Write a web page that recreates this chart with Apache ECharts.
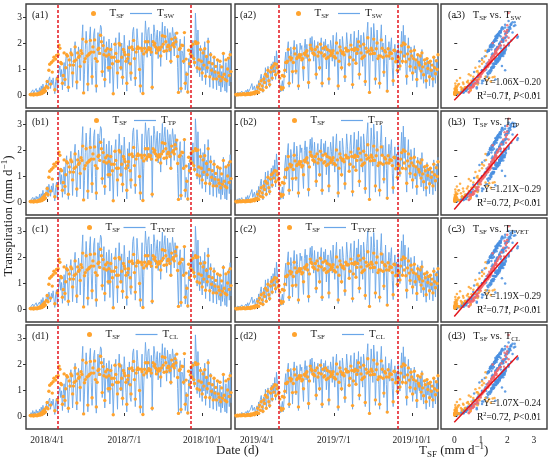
<!DOCTYPE html>
<html>
<head>
<meta charset="utf-8">
<script src="https://cdn.jsdelivr.net/npm/echarts@6/dist/echarts.min.js"></script>
<style>html,body{margin:0;padding:0;background:#fff}#chart{width:550px;height:462px}</style>
</head>
<body>
<div id="chart"></div>
<script>
// 日值 2018（从 2018-03-12 开始）
const sf2018 = [0.02,0.01,0.03,0.02,0.00,0.04,0.02,0.03,0.01,0.05,
0.03,0.08,0.04,0.12,0.06,0.18,0.10,0.25,0.15,0.33,
0.52,0.28,0.95,1.18,0.42,1.25,0.88,1.32,1.45,0.20,
1.38,1.52,0.62,1.55,1.92,1.80,1.25,1.20,0.45,0.75,
1.62,0.60,1.05,1.55,1.50,0.30,1.35,1.15,1.62,1.55,
0.85,1.15,1.30,1.85,1.35,0.50,1.62,1.45,1.50,1.10,
1.70,1.60,2.15,0.08,1.28,1.40,2.05,1.50,0.42,1.55,
1.60,2.10,1.65,0.70,1.85,1.65,2.12,1.40,0.35,1.30,
1.75,1.80,1.60,2.30,2.05,0.90,1.90,1.55,0.60,1.70,
1.50,1.78,1.05,1.55,1.05,1.75,1.45,1.20,0.05,1.45,
1.95,1.60,1.30,0.85,1.30,1.98,1.92,1.05,1.45,0.68,
1.75,1.65,1.55,1.30,0.45,1.40,1.55,1.82,1.20,0.85,
1.85,1.75,2.10,1.40,0.65,1.65,1.78,1.85,1.80,0.98,
0.35,1.80,1.70,0.06,1.58,1.80,2.05,1.65,1.72,2.05,
1.82,1.75,1.78,1.65,0.30,2.05,1.92,1.98,1.85,1.62,
1.78,1.72,1.82,1.75,1.50,1.85,2.28,1.95,1.68,2.25,
2.05,1.70,1.85,1.92,1.88,1.75,1.30,2.15,1.92,1.98,
1.85,2.20,2.05,2.38,1.48,0.10,1.75,1.80,0.25,1.92,
1.90,1.30,2.40,0.45,1.38,0.80,0.12,1.72,1.20,1.58,
1.88,1.50,1.95,1.40,1.25,2.05,1.98,1.05,2.00,1.35,
1.00,1.75,1.30,0.85,1.62,1.15,1.78,0.72,1.48,1.05,
2.05,1.25,0.70,1.55,0.95,1.20,0.62,1.45,0.88,1.10,
0.62,1.35,0.85,0.72,1.30,0.55,1.08,0.68,1.60,0.80,
0.60,1.35,0.55,1.00,1.42,0.75,1.55,0.90];

const sw2018 = [0.05,0.12,0.02,0.20,0.08,0.15,0.03,0.25,0.10,0.18,
0.05,0.28,0.12,0.35,0.15,0.42,0.20,0.30,0.10,0.48,
0.55,0.22,0.62,0.70,0.25,0.58,0.40,0.66,0.68,0.05,
0.52,0.70,0.18,0.60,0.95,1.12,0.70,0.98,0.20,0.88,
1.25,0.35,1.40,1.62,1.10,0.12,0.95,1.48,1.80,1.20,
0.30,1.05,1.70,2.05,0.85,0.22,1.30,1.85,1.52,0.55,
1.40,2.10,2.70,0.05,0.80,1.75,2.45,1.90,0.15,1.20,
2.20,2.62,1.30,0.40,1.60,2.35,2.55,0.95,0.10,1.72,
2.40,1.55,2.30,2.68,2.60,0.70,1.65,2.25,0.30,1.40,
2.05,1.50,0.90,2.15,0.45,1.52,2.00,1.10,0.08,1.05,
1.85,2.20,1.25,0.25,1.70,2.40,1.80,0.95,2.00,0.40,
1.50,2.30,1.65,0.90,0.15,1.90,1.20,2.10,0.70,0.55,
1.68,2.45,2.60,1.85,0.35,1.30,2.55,2.10,1.60,0.80,
0.10,1.55,2.40,0.05,1.20,2.05,2.85,2.30,1.45,2.50,
2.60,1.90,1.50,2.35,0.20,1.95,2.70,2.40,1.60,2.20,
2.50,1.40,2.05,2.45,1.10,2.15,2.80,1.75,2.30,2.65,
2.00,1.35,2.55,2.20,1.65,2.40,1.20,2.10,2.60,2.25,
1.50,2.40,1.90,2.20,1.05,0.08,1.80,2.15,0.10,1.70,
1.60,1.20,2.25,0.20,0.90,0.45,0.05,1.40,1.05,1.65,
1.90,1.40,2.10,1.30,1.10,3.15,2.40,0.85,2.50,1.20,
0.70,1.90,1.15,0.55,1.75,0.95,2.05,0.40,1.50,0.85,
2.20,1.10,0.30,1.65,0.75,1.05,0.25,1.50,0.60,0.95,
0.20,1.30,0.55,0.35,1.20,0.12,0.90,0.30,1.60,0.45,
0.15,1.25,0.10,0.80,1.45,0.35,1.70,0.50];

const tp2018 = [0.04,0.10,0.03,0.18,0.06,0.16,0.02,0.22,0.12,0.20,
0.04,0.30,0.10,0.32,0.18,0.45,0.18,0.34,0.08,0.52,
0.60,0.20,0.68,0.75,0.22,0.62,0.38,0.72,0.74,0.04,
0.55,0.76,0.15,0.64,1.00,1.20,0.68,1.05,0.18,0.92,
1.35,0.30,1.52,1.78,1.15,0.10,1.02,1.60,1.95,1.28,
0.25,1.12,1.85,2.22,0.88,0.20,1.40,2.00,1.62,0.50,
1.50,2.28,2.90,0.04,0.82,1.90,2.65,2.05,0.12,1.28,
2.40,2.85,1.38,0.35,1.72,2.55,2.78,0.98,0.08,1.85,
2.62,1.65,2.48,2.90,2.82,0.68,1.78,2.45,0.28,1.50,
2.22,1.60,0.92,2.35,0.42,1.62,2.18,1.15,0.06,1.10,
2.00,2.40,1.32,0.22,1.85,2.62,1.95,0.98,2.18,0.38,
1.62,2.50,1.78,0.92,0.12,2.05,1.28,2.30,0.68,0.52,
1.82,2.68,2.85,2.00,0.32,1.40,2.78,2.28,1.72,0.80,
0.08,1.68,2.62,0.04,1.28,2.22,3.05,2.50,1.55,2.72,
2.85,2.05,1.60,2.55,0.18,2.10,2.92,2.60,1.72,2.38,
2.72,1.50,2.22,2.65,1.15,2.32,3.02,1.88,2.48,2.88,
2.15,1.42,2.78,2.38,1.75,2.60,1.25,2.28,2.82,2.42,
1.60,2.60,2.05,2.38,1.10,0.06,1.95,2.32,0.08,1.82,
1.72,1.25,2.45,0.18,0.95,0.42,0.04,1.50,1.10,1.78,
2.05,1.50,2.28,1.38,1.15,3.20,2.58,0.88,2.70,1.25,
0.68,2.05,1.22,0.52,1.90,1.00,2.22,0.38,1.60,0.88,
2.40,1.15,0.28,1.78,0.78,1.10,0.22,1.62,0.58,1.00,
0.18,1.40,0.52,0.32,1.28,0.10,0.95,0.28,1.72,0.42,
0.12,1.32,0.08,0.82,1.55,0.32,1.82,0.48];

const tvet2018 = [0.06,0.11,0.02,0.19,0.09,0.14,0.04,0.24,0.11,0.17,
0.06,0.27,0.13,0.36,0.14,0.44,0.21,0.31,0.11,0.50,
0.58,0.24,0.65,0.72,0.27,0.60,0.42,0.70,0.71,0.06,
0.54,0.74,0.17,0.63,0.98,1.18,0.72,1.02,0.22,0.90,
1.32,0.33,1.48,1.72,1.14,0.13,1.00,1.56,1.90,1.25,
0.28,1.10,1.80,2.18,0.90,0.23,1.36,1.96,1.58,0.54,
1.46,2.22,2.85,0.06,0.84,1.85,2.60,2.00,0.14,1.26,
2.35,2.78,1.36,0.38,1.68,2.50,2.72,0.97,0.09,1.80,
2.55,1.62,2.44,2.84,2.75,0.72,1.74,2.40,0.30,1.46,
2.18,1.58,0.94,2.28,0.44,1.60,2.14,1.14,0.07,1.08,
1.96,2.35,1.30,0.24,1.80,2.55,1.90,0.99,2.12,0.40,
1.58,2.45,1.74,0.93,0.14,2.00,1.26,2.24,0.71,0.56,
1.78,2.60,2.78,1.96,0.34,1.38,2.72,2.22,1.68,0.82,
0.09,1.64,2.55,0.05,1.26,2.18,3.00,2.45,1.52,2.65,
2.78,2.02,1.58,2.50,0.19,2.06,2.86,2.55,1.70,2.34,
2.66,1.48,2.18,2.60,1.14,2.28,2.96,1.85,2.44,2.82,
2.12,1.40,2.72,2.34,1.72,2.55,1.24,2.24,2.76,2.38,
1.58,2.55,2.02,2.34,1.08,0.07,1.92,2.28,0.09,1.80,
1.70,1.24,2.40,0.19,0.94,0.44,0.05,1.48,1.08,1.75,
2.02,1.48,2.24,1.36,1.14,3.18,2.54,0.88,2.65,1.24,
0.70,2.02,1.20,0.54,1.86,0.99,2.18,0.40,1.58,0.87,
2.35,1.14,0.30,1.75,0.77,1.08,0.24,1.59,0.60,0.98,
0.19,1.38,0.54,0.34,1.26,0.11,0.94,0.29,1.68,0.44,
0.14,1.30,0.09,0.82,1.52,0.34,1.78,0.50];

const cl2018 = [0.04,0.13,0.03,0.21,0.07,0.16,0.02,0.24,0.11,0.19,
0.06,0.27,0.13,0.34,0.16,0.41,0.21,0.31,0.09,0.47,
0.54,0.23,0.61,0.69,0.26,0.57,0.41,0.65,0.67,0.06,
0.51,0.69,0.19,0.59,0.94,1.10,0.71,0.97,0.21,0.87,
1.24,0.36,1.38,1.60,1.09,0.13,0.94,1.46,1.78,1.19,
0.31,1.04,1.68,2.03,0.86,0.23,1.29,1.83,1.51,0.56,
1.38,2.08,2.68,0.06,0.81,1.73,2.43,1.88,0.16,1.19,
2.18,2.60,1.29,0.41,1.58,2.33,2.53,0.96,0.11,1.70,
2.38,1.54,2.28,2.66,2.58,0.71,1.63,2.23,0.31,1.39,
2.03,1.49,0.91,2.13,0.46,1.50,1.98,1.09,0.09,1.04,
1.83,2.18,1.24,0.26,1.68,2.38,1.79,0.96,1.98,0.41,
1.49,2.28,1.64,0.91,0.16,1.88,1.19,2.08,0.71,0.56,
1.66,2.43,2.58,1.84,0.36,1.29,2.53,2.09,1.59,0.81,
0.11,1.54,2.38,0.06,1.19,2.03,2.83,2.28,1.44,2.48,
2.58,1.89,1.49,2.33,0.21,1.94,2.68,2.38,1.59,2.18,
2.48,1.39,2.03,2.43,1.11,2.13,2.78,1.74,2.28,2.63,
1.99,1.34,2.53,2.18,1.64,2.38,1.21,2.09,2.58,2.23,
1.49,2.38,1.89,2.18,1.06,0.09,1.79,2.13,0.11,1.69,
1.59,1.21,2.23,0.21,0.91,0.46,0.06,1.39,1.06,1.64,
1.89,1.41,2.08,1.31,1.11,3.12,2.38,0.86,2.48,1.21,
0.71,1.88,1.16,0.56,1.74,0.96,2.03,0.41,1.49,0.86,
2.18,1.11,0.31,1.64,0.76,1.06,0.26,1.49,0.61,0.96,
0.21,1.29,0.56,0.36,1.19,0.13,0.91,0.31,1.58,0.46,
0.16,1.24,0.11,0.81,1.44,0.36,1.68,0.51];

// 日值 2019（从 2019-03-07 开始）
const sf2019 = [0.02,0.00,0.03,0.01,0.02,0.04,0.01,0.03,0.02,0.05,
0.03,0.01,0.04,0.02,0.06,0.03,0.05,0.02,0.08,0.04,
0.06,0.10,0.05,0.12,0.08,0.15,0.30,0.10,0.42,0.22,
0.55,0.35,0.18,0.62,0.48,0.80,0.30,0.72,0.95,0.55,
0.40,0.88,1.05,0.65,1.12,0.92,1.20,0.78,1.18,1.05,
0.85,0.90,0.65,0.30,0.22,0.75,0.28,0.72,0.95,1.25,
1.25,1.30,1.75,0.45,1.45,1.35,1.42,0.90,1.25,1.80,
1.58,0.92,1.40,1.45,0.35,1.55,1.45,1.55,1.35,1.40,
1.05,1.60,1.55,1.65,1.70,1.50,0.48,1.35,1.92,1.80,
1.75,1.62,1.60,1.55,1.75,0.80,1.85,1.50,1.65,1.05,
1.95,1.62,0.45,1.80,1.50,1.55,1.85,1.40,1.75,1.45,
0.62,1.70,1.52,1.62,1.60,1.70,1.48,1.45,1.42,2.00,
1.62,0.35,1.30,1.85,1.70,1.05,1.60,1.65,1.55,0.70,
1.80,1.70,1.70,1.70,1.18,1.45,1.92,1.75,0.40,1.35,
1.72,1.80,1.22,1.60,1.75,2.05,0.80,1.88,1.62,1.40,
1.45,1.95,1.50,0.52,1.80,1.65,2.20,1.70,0.10,1.58,
1.80,1.72,1.60,2.15,1.60,0.62,1.78,2.00,1.40,1.50,
0.45,1.50,2.12,1.80,1.45,0.88,1.70,1.65,1.50,0.15,
1.78,1.50,1.62,1.62,1.60,1.40,0.55,1.72,1.70,1.28,
1.30,0.95,1.45,1.40,1.12,1.65,1.90,1.30,2.00,1.50,
1.95,1.28,0.72,1.58,1.85,1.38,1.10,1.68,1.50,0.85,
1.40,1.72,1.05,1.35,0.60,1.55,1.25,1.15,1.50,0.92,
1.62,1.08,0.78,1.35,1.20,0.55,1.40,1.02,1.25,0.70,
1.30,0.95,1.15,0.62,1.45,1.05,0.82,1.32,0.98,1.55];

const sw2019 = [0.02,0.05,0.10,0.03,0.12,0.06,0.02,0.15,0.08,0.04,
0.10,0.05,0.18,0.08,0.22,0.12,0.05,0.25,0.30,0.44,
0.20,0.15,0.35,0.10,0.28,0.40,0.18,0.55,0.30,0.65,
0.80,0.42,0.10,0.75,0.50,1.05,0.25,0.70,1.10,0.45,
0.30,0.92,1.20,0.55,1.28,0.85,1.50,0.60,1.70,1.35,
0.90,0.70,0.40,0.12,0.08,0.55,0.15,0.62,1.30,1.65,
0.85,1.75,2.05,0.30,1.20,1.85,1.55,0.45,1.70,2.10,
1.40,0.80,1.95,1.60,0.20,1.35,2.00,1.75,1.90,1.05,
0.55,1.80,2.15,1.40,1.95,1.20,0.25,1.85,2.20,1.65,
2.25,1.80,1.30,2.10,1.50,0.60,1.75,2.05,1.40,0.95,
1.85,2.20,0.30,1.60,2.05,1.70,2.15,1.00,1.55,1.95,
0.40,1.50,2.10,1.80,1.30,2.30,1.55,1.10,1.95,2.40,
1.30,0.20,1.70,2.15,1.45,0.95,2.25,1.85,1.30,0.50,
1.60,2.40,1.95,1.50,1.10,2.00,2.35,1.60,0.25,1.85,
2.45,1.70,1.20,2.20,1.60,2.50,0.60,1.80,2.30,1.45,
1.10,2.40,2.05,0.35,1.65,2.35,2.80,1.50,0.05,1.75,
2.60,2.00,1.30,2.75,2.20,0.40,1.60,2.50,1.90,1.20,
0.25,2.10,2.70,1.65,2.00,0.70,1.45,2.30,1.20,0.10,
1.60,2.05,1.35,1.85,2.20,1.05,0.35,1.50,1.95,1.25,
1.70,0.80,2.00,1.40,0.95,1.80,2.45,1.20,2.68,1.55,
2.30,1.10,0.40,1.65,2.20,1.25,0.90,1.85,1.50,0.55,
1.35,1.90,0.85,1.30,0.30,1.60,1.10,0.95,1.55,0.60,
1.75,0.90,0.45,1.30,1.05,0.25,1.40,0.80,1.20,0.35,
1.25,0.70,1.00,0.30,1.50,0.85,0.45,1.35,0.75,1.60];

const tp2019 = [0.03,0.04,0.12,0.02,0.14,0.05,0.03,0.17,0.07,0.05,
0.12,0.04,0.20,0.07,0.25,0.11,0.04,0.28,0.33,0.48,
0.18,0.14,0.38,0.09,0.30,0.44,0.16,0.60,0.28,0.70,
0.88,0.40,0.08,0.82,0.52,1.15,0.22,0.75,1.20,0.42,
0.28,1.00,1.30,0.55,1.40,0.90,1.62,0.58,1.85,1.45,
0.95,0.72,0.38,0.10,0.06,0.58,0.12,0.66,1.42,1.80,
0.88,1.92,2.25,0.28,1.30,2.02,1.68,0.42,1.85,2.30,
1.52,0.82,2.15,1.75,0.18,1.45,2.20,1.90,2.08,1.10,
0.52,1.98,2.35,1.50,2.12,1.28,0.22,2.02,2.42,1.78,
2.48,1.95,1.40,2.30,1.62,0.58,1.90,2.25,1.50,0.98,
2.02,2.42,0.28,1.75,2.25,1.85,2.35,1.05,1.68,2.12,
0.38,1.62,2.30,1.95,1.40,2.52,1.68,1.15,2.12,2.62,
1.40,0.18,1.85,2.35,1.58,0.98,2.45,2.02,1.40,0.48,
1.75,2.62,2.12,1.62,1.15,2.18,2.58,1.72,0.22,2.02,
2.68,1.85,1.28,2.40,1.72,2.72,0.58,1.95,2.52,1.55,
1.15,2.62,2.22,0.32,1.78,2.58,3.05,1.62,0.04,1.90,
2.85,2.18,1.38,3.00,2.40,0.38,1.72,2.72,2.05,1.28,
0.22,2.30,2.95,1.78,2.18,0.72,1.55,2.50,1.28,0.08,
1.72,2.22,1.45,2.02,2.40,1.10,0.32,1.62,2.12,1.32,
1.85,0.82,2.18,1.50,0.98,1.95,2.68,1.28,2.92,1.68,
2.50,1.15,0.38,1.78,2.40,1.32,0.92,2.02,1.62,0.52,
1.45,2.08,0.88,1.40,0.28,1.72,1.15,0.98,1.68,0.58,
1.90,0.92,0.42,1.40,1.10,0.22,1.52,0.82,1.28,0.32,
1.35,0.70,1.05,0.28,1.62,0.88,0.42,1.45,0.76,1.72];

const tvet2019 = [0.02,0.06,0.11,0.04,0.13,0.07,0.02,0.16,0.09,0.05,
0.11,0.06,0.19,0.09,0.24,0.13,0.06,0.27,0.32,0.46,
0.21,0.16,0.37,0.11,0.29,0.42,0.19,0.58,0.31,0.68,
0.85,0.43,0.11,0.80,0.52,1.12,0.26,0.74,1.16,0.46,
0.31,0.97,1.27,0.57,1.36,0.89,1.58,0.61,1.80,1.42,
0.93,0.72,0.41,0.13,0.09,0.57,0.16,0.65,1.38,1.76,
0.88,1.88,2.20,0.31,1.27,1.98,1.64,0.46,1.82,2.25,
1.48,0.82,2.10,1.71,0.21,1.42,2.15,1.86,2.03,1.09,
0.56,1.93,2.30,1.48,2.08,1.26,0.26,1.98,2.36,1.75,
2.42,1.92,1.38,2.25,1.59,0.61,1.87,2.20,1.48,0.98,
1.98,2.36,0.31,1.71,2.20,1.81,2.30,1.04,1.65,2.08,
0.41,1.59,2.25,1.92,1.38,2.46,1.65,1.14,2.08,2.57,
1.38,0.21,1.81,2.30,1.54,0.98,2.40,1.98,1.38,0.51,
1.71,2.57,2.08,1.59,1.14,2.14,2.52,1.70,0.26,1.98,
2.62,1.81,1.26,2.35,1.70,2.68,0.61,1.92,2.46,1.54,
1.14,2.57,2.18,0.36,1.76,2.52,3.00,1.59,0.06,1.86,
2.78,2.14,1.38,2.94,2.36,0.41,1.70,2.66,2.02,1.27,
0.26,2.25,2.90,1.76,2.14,0.73,1.54,2.46,1.27,0.11,
1.70,2.18,1.43,1.98,2.36,1.10,0.36,1.59,2.08,1.32,
1.81,0.83,2.14,1.48,0.98,1.92,2.62,1.27,2.86,1.65,
2.46,1.15,0.41,1.76,2.36,1.32,0.93,1.98,1.59,0.57,
1.43,2.03,0.89,1.38,0.31,1.70,1.15,0.99,1.65,0.62,
1.86,0.94,0.46,1.38,1.10,0.26,1.48,0.83,1.27,0.36,
1.32,0.73,1.05,0.31,1.59,0.89,0.46,1.43,0.78,1.70];

const cl2019 = [0.03,0.06,0.09,0.04,0.11,0.07,0.03,0.14,0.09,0.05,
0.09,0.06,0.17,0.09,0.21,0.13,0.06,0.24,0.29,0.42,
0.21,0.16,0.34,0.11,0.27,0.39,0.19,0.54,0.31,0.64,
0.79,0.43,0.11,0.74,0.51,1.03,0.26,0.69,1.08,0.46,
0.31,0.91,1.18,0.56,1.26,0.86,1.48,0.61,1.68,1.34,
0.91,0.71,0.41,0.13,0.09,0.56,0.16,0.61,1.29,1.63,
0.86,1.73,2.03,0.31,1.19,1.83,1.54,0.46,1.68,2.08,
1.39,0.81,1.93,1.59,0.21,1.34,1.98,1.74,1.88,1.06,
0.56,1.78,2.13,1.39,1.93,1.19,0.26,1.83,2.18,1.64,
2.23,1.79,1.29,2.08,1.49,0.61,1.74,2.03,1.39,0.96,
1.83,2.18,0.31,1.59,2.03,1.69,2.13,1.01,1.54,1.93,
0.41,1.49,2.08,1.79,1.29,2.28,1.54,1.11,1.93,2.38,
1.29,0.21,1.69,2.13,1.44,0.96,2.23,1.84,1.29,0.51,
1.59,2.38,1.93,1.49,1.11,1.98,2.33,1.59,0.26,1.84,
2.43,1.69,1.21,2.18,1.59,2.48,0.61,1.79,2.28,1.44,
1.11,2.38,2.03,0.36,1.64,2.33,2.78,1.49,0.06,1.74,
2.58,1.98,1.29,2.73,2.18,0.41,1.59,2.48,1.89,1.21,
0.26,2.08,2.68,1.64,1.98,0.71,1.44,2.28,1.21,0.11,
1.59,2.03,1.34,1.84,2.18,1.06,0.36,1.49,1.93,1.26,
1.69,0.81,1.98,1.39,0.96,1.79,2.43,1.21,2.66,1.54,
2.28,1.11,0.41,1.64,2.18,1.26,0.91,1.84,1.49,0.56,
1.34,1.88,0.86,1.29,0.31,1.59,1.11,0.96,1.54,0.61,
1.74,0.91,0.46,1.29,1.06,0.26,1.39,0.81,1.21,0.36,
1.24,0.71,1.01,0.31,1.49,0.86,0.46,1.34,0.76,1.59];

const seriesStart = ['2018-03-12', '2019-03-07'];
const axisRange = [['2018-03-07', '2018-11-04'], ['2019-03-06', '2019-11-01']];
const dateTicks = [['2018-04-01', '2018-07-01', '2018-10-01'], ['2019-04-01', '2019-07-01', '2019-10-01']];
const phaseSplits = [['2018-04-14', '2018-09-17'], ['2019-04-27', '2019-09-15']];
const valueTicks = [0, 1, 2, 3];

const modelNames = ['SW', 'TP', 'TVET', 'CL'];
const rowLetters = ['a', 'b', 'c', 'd'];
const slopes = [1.06, 1.21, 1.19, 1.07];
const intercepts = [-0.20, -0.29, -0.29, -0.24];
const r2Values = ['0.71', '0.72', '0.71', '0.72'];
const fitRange = [0, 2.4];

const modelData = [[sw2018, sw2019], [tp2018, tp2019], [tvet2018, tvet2019], [cl2018, cl2019]];
const sfData = [sf2018, sf2019];

// layout
const colLeft = [26, 235, 441];
const colWidth = [205, 203, 106];
const rowTop = [4, 111, 218, 325];
const rowHeight = 104;
const legendLeft = [[91, 296], [94, 292], [87, 287], [87, 292]];
const legendGap = [[6, 9], [7, 16], [3.5, 4], [15.5, 17]];

const serif = 'Liberation Serif';
const ink = '#1a1a1a';
const blue = '#6aa6e8';
const orange = '#ffa32e';
const red = '#e3161c';
const phaseColors = ['#ffa32e', '#4a8fe0', '#f2676c'];

function ts(s) {
  const p = s.split('-').map(Number);
  return new Date(p[0], p[1] - 1, p[2]).getTime();
}
function dayList(startStr, n) {
  const p = startStr.split('-').map(Number);
  const out = [];
  for (let i = 0; i < n; i++) out.push(new Date(p[0], p[1] - 1, p[2] + i).getTime());
  return out;
}
function fmtDate(v) {
  const d = new Date(v);
  return d.getFullYear() + '/' + (d.getMonth() + 1) + '/' + d.getDate();
}

const legendRich = {
  t: {fontFamily: serif, fontSize: 11, color: ink},
  s: {fontFamily: serif, fontSize: 7, color: ink, padding: [6, 0, 0, 0]}
};
const titleRich = {
  n: {fontFamily: serif, fontSize: 10.5, color: ink},
  s: {fontFamily: serif, fontSize: 7, color: ink, padding: [6, 0, 0, 0]}
};
const noteRich = {
  n: {fontFamily: serif, fontSize: 9.5, color: ink},
  sup: {fontFamily: serif, fontSize: 6.5, color: ink, padding: [0, 0, 6, 0]},
  i: {fontFamily: serif, fontSize: 9.5, color: ink, fontStyle: 'italic'}
};

const grids = [], xAxes = [], yAxes = [], series = [], legends = [], titles = [];

rowTop.forEach((top, r) => {
  const bottomRow = r === rowTop.length - 1;
  for (let c = 0; c < 3; c++) {
    const gi = grids.length;
    grids.push({
      left: colLeft[c], top: top, width: colWidth[c], height: rowHeight,
      show: true, borderColor: '#3c3c3c', borderWidth: 1.4, backgroundColor: '#fff',
      containLabel: false, outerBoundsMode: 'none'
    });
    yAxes.push({
      gridIndex: gi, type: 'value', min: -0.5, max: 3.5,
      splitLine: {show: false}, axisLine: {show: false},
      axisTick: {show: true, inside: c > 0, length: 3, customValues: valueTicks, lineStyle: {color: '#333'}},
      axisLabel: {show: c === 0, customValues: valueTicks, margin: 4, fontFamily: serif, fontSize: 9.5, color: ink}
    });

    if (c < 2) {
      // dates kept as plain numbers (ms) on a value axis
      const tickTs = dateTicks[c].map(ts);
      xAxes.push({
        gridIndex: gi, type: 'value', min: ts(axisRange[c][0]), max: ts(axisRange[c][1]),
        splitLine: {show: false}, axisLine: {show: false},
        axisTick: {show: true, inside: true, length: 3, customValues: tickTs, lineStyle: {color: '#333'}},
        axisLabel: {show: bottomRow, customValues: tickTs, formatter: fmtDate, margin: 6, fontFamily: serif, fontSize: 9.5, color: ink, hideOverlap: false}
      });
      const days = dayList(seriesStart[c], sfData[c].length);
      const model = modelData[r][c];
      series.push({
        type: 'line', name: 'T_' + modelNames[r], xAxisIndex: gi, yAxisIndex: gi,
        data: days.map((d, i) => [d, model[i]]),
        symbol: 'none', showSymbol: false, lineStyle: {color: blue, width: 0.9}, itemStyle: {color: blue},
        z: 2,
        markLine: {
          silent: true, symbol: 'none', label: {show: false}, z: 5,
          lineStyle: {color: red, type: [3, 2], width: 1.5},
          data: phaseSplits[c].map(s => ({xAxis: ts(s)}))
        }
      });
      series.push({
        type: 'scatter', name: 'T_SF', xAxisIndex: gi, yAxisIndex: gi,
        data: days.map((d, i) => [d, sfData[c][i]]),
        symbolSize: 3.4, itemStyle: {color: orange, opacity: 1}, z: 3
      });
      legends.push({
        left: legendLeft[r][c], top: top + 4, padding: 0, itemWidth: 22, itemHeight: 5,
        itemGap: legendGap[r][c], selectedMode: false,
        data: [{name: 'T_SF'}, {name: 'T_' + modelNames[r], icon: 'path://M0,0H22V1.2H0Z'}],
        formatter: name => '{t|T}{s|' + name.slice(2) + '}',
        textStyle: {fontFamily: serif, fontSize: 11, color: ink, rich: legendRich}
      });
      titles.push({
        text: '(' + rowLetters[r] + (c + 1) + ')', left: c === 0 ? 32 : 240, top: top + 6, padding: 0,
        textStyle: {fontFamily: serif, fontSize: 10, fontWeight: 'normal', color: ink}
      });
    } else {
      xAxes.push({
        gridIndex: gi, type: 'value', min: -0.5, max: 3.5,
        splitLine: {show: false}, axisLine: {show: false},
        axisTick: {show: true, inside: true, length: 3, customValues: valueTicks, lineStyle: {color: '#333'}},
        axisLabel: {show: bottomRow, customValues: valueTicks, margin: 6, fontFamily: serif, fontSize: 9.5, color: ink}
      });
      // pairs (T_SF, model) from both years, split by phase
      const groups = [[], [], []];
      for (let y = 0; y < 2; y++) {
        const days = dayList(seriesStart[y], sfData[y].length);
        const s0 = ts(phaseSplits[y][0]), s1 = ts(phaseSplits[y][1]);
        days.forEach((d, i) => {
          const ph = d < s0 ? 0 : (d < s1 ? 1 : 2);
          groups[ph].push([sfData[y][i], modelData[r][y][i]]);
        });
      }
      [1, 2, 0].forEach(ph => {
        series.push({
          type: 'scatter', xAxisIndex: gi, yAxisIndex: gi, data: groups[ph],
          symbolSize: 2.5, itemStyle: {color: phaseColors[ph], opacity: 0.85}, z: 2, silent: true
        });
      });
      series.push({
        type: 'line', xAxisIndex: gi, yAxisIndex: gi, symbol: 'none', silent: true, z: 4,
        lineStyle: {color: red, width: 1.5},
        data: fitRange.map(x => [x, slopes[r] * x + intercepts[r]])
      });
      titles.push({
        text: '{n|(' + rowLetters[r] + '3)   T}{s|SF}{n| vs. T}{s|' + modelNames[r] + '}',
        left: 448, top: top + 5, padding: 0,
        textStyle: {fontFamily: serif, fontSize: 10.5, fontWeight: 'normal', color: ink, rich: titleRich}
      });
      const sign = intercepts[r] < 0 ? '\u2212' : '+';
      titles.push({
        text: 'Y=' + slopes[r].toFixed(2) + 'X' + sign + Math.abs(intercepts[r]).toFixed(2),
        right: 9, top: top + 73, padding: 0,
        textStyle: {fontFamily: serif, fontSize: 9.5, fontWeight: 'normal', color: ink}
      });
      titles.push({
        text: '{n|R}{sup|2}{n|=' + r2Values[r] + ', }{i|P}{n|<0.01}',
        right: 9, top: top + 86, padding: 0,
        textStyle: {fontFamily: serif, fontSize: 9.5, fontWeight: 'normal', color: ink, rich: noteRich}
      });
    }
  }
});

const bigRich = {
  n: {fontFamily: serif, fontSize: 13, fill: ink, color: ink},
  s: {fontFamily: serif, fontSize: 9, fill: ink, color: ink, padding: [8, 0, 0, 0]},
  sup: {fontFamily: serif, fontSize: 9, fill: ink, color: ink, padding: [0, 0, 8, 0]}
};

const myChart = echarts.init(document.getElementById('chart'));
myChart.setOption({
  animation: false,
  backgroundColor: '#fff',
  grid: grids,
  xAxis: xAxes,
  yAxis: yAxes,
  legend: legends,
  title: titles,
  series: series,
  graphic: [
    {type: 'text', left: 216, top: 444, style: {text: 'Date (d)', font: '13px "Liberation Serif"', fill: ink}},
    {type: 'text', left: 419, top: 442, style: {text: '{n|T}{s|SF}{n| (mm d}{sup|\u22121}{n|)}', rich: bigRich, fill: ink}},
    {type: 'text', x: 9, y: 216, rotation: Math.PI / 2,
     style: {text: '{n|Transpiration (mm d}{sup|\u22121}{n|)}', rich: bigRich, align: 'center', verticalAlign: 'middle', fill: ink}}
  ]
});
</script>
</body>
</html>
